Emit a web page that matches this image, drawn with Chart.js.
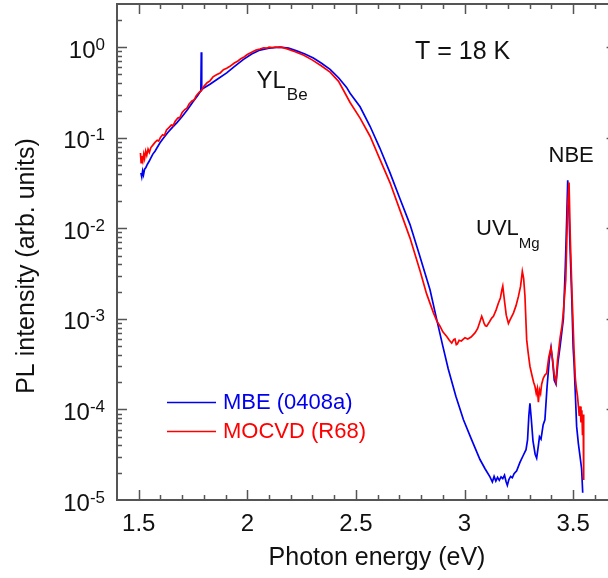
<!DOCTYPE html>
<html><head><meta charset="utf-8">
<script src="https://cdn.jsdelivr.net/npm/chart.js@4.4.1/dist/chart.umd.min.js"></script>
<style>
html,body{margin:0;padding:0;background:#fff;overflow:hidden;width:608px;height:578px}
#wrap{width:620px;height:578px;position:relative}
</style></head>
<body><div id="wrap"><canvas id="c" width="620" height="578"></canvas></div>
<script>
const mbeEnergy = [1.510,1.514,1.518,1.522,1.527,1.533,1.540,1.548,1.556,1.565,1.575,1.585,1.598,1.615,1.635,1.655,1.675,1.700,1.725,1.750,1.770,1.786,1.788,1.790,1.800,1.828,1.860,1.905,1.940,1.981,2.020,2.058,2.100,2.150,2.190,2.227,2.265,2.304,2.340,2.381,2.420,2.457,2.473,2.519,2.565,2.610,2.657,2.700,2.749,2.790,2.841,2.872,2.900,2.925,2.960,2.995,3.030,3.071,3.095,3.117,3.128,3.136,3.144,3.152,3.160,3.168,3.176,3.184,3.191,3.197,3.204,3.212,3.220,3.228,3.240,3.255,3.270,3.283,3.290,3.296,3.301,3.307,3.315,3.325,3.332,3.340,3.345,3.352,3.362,3.370,3.380,3.390,3.398,3.405,3.413,3.421,3.430,3.440,3.455,3.464,3.470,3.475,3.480,3.486,3.494,3.500,3.504,3.510,3.516,3.524,3.532,3.539,3.544];
const mbeIntensity = [0.041,0.037,0.043,0.039,0.045,0.047,0.051,0.055,0.060,0.066,0.071,0.078,0.088,0.100,0.115,0.130,0.146,0.172,0.205,0.250,0.290,0.330,0.880,0.340,0.355,0.390,0.440,0.520,0.610,0.730,0.840,0.930,0.975,1.000,0.975,0.910,0.840,0.760,0.670,0.570,0.460,0.360,0.310,0.220,0.134,0.077,0.041,0.022,0.0110,0.0053,0.0021,0.00098,0.00050,0.00028,0.00014,0.000077,0.000048,0.000028,0.000022,0.000018,0.0000158,0.0000182,0.0000162,0.0000178,0.0000165,0.0000180,0.0000172,0.0000188,0.0000160,0.0000145,0.0000168,0.0000182,0.0000176,0.0000195,0.000021,0.000026,0.000031,0.000036,0.000046,0.000085,0.000117,0.000080,0.000045,0.000032,0.000029,0.000040,0.000050,0.000047,0.000068,0.000077,0.00018,0.00035,0.00048,0.00035,0.00021,0.00019,0.00033,0.00050,0.00100,0.0038,0.012,0.034,0.018,0.0058,0.0016,0.00048,0.00033,0.00015,0.000065,0.000042,0.000030,0.000022,0.000012];
const mocvdEnergy = [1.508,1.511,1.515,1.519,1.523,1.527,1.532,1.537,1.543,1.549,1.556,1.565,1.575,1.585,1.592,1.600,1.610,1.618,1.628,1.640,1.650,1.658,1.668,1.680,1.690,1.700,1.712,1.722,1.732,1.745,1.755,1.765,1.778,1.788,1.800,1.815,1.828,1.842,1.860,1.875,1.890,1.905,1.920,1.940,1.955,1.970,1.985,2.000,2.020,2.040,2.058,2.075,2.090,2.100,2.115,2.130,2.140,2.155,2.180,2.220,2.260,2.300,2.340,2.381,2.420,2.450,2.473,2.519,2.565,2.610,2.657,2.700,2.749,2.795,2.825,2.856,2.872,2.887,2.900,2.918,2.930,2.941,2.950,2.956,2.962,2.967,2.975,2.985,3.002,3.015,3.030,3.048,3.060,3.070,3.079,3.085,3.090,3.096,3.102,3.115,3.125,3.133,3.145,3.156,3.165,3.172,3.176,3.180,3.185,3.192,3.202,3.210,3.225,3.237,3.248,3.258,3.266,3.272,3.278,3.286,3.293,3.301,3.310,3.318,3.324,3.330,3.335,3.340,3.345,3.350,3.355,3.362,3.370,3.378,3.388,3.398,3.405,3.413,3.421,3.428,3.440,3.449,3.455,3.466,3.475,3.481,3.487,3.495,3.504,3.510,3.515,3.520,3.524,3.528,3.532,3.536,3.540,3.543,3.546,3.548,3.549];
const mocvdIntensity = [0.068,0.053,0.063,0.056,0.066,0.059,0.071,0.064,0.075,0.069,0.078,0.083,0.089,0.094,0.092,0.101,0.108,0.106,0.122,0.130,0.138,0.136,0.152,0.165,0.168,0.190,0.205,0.212,0.236,0.255,0.262,0.292,0.318,0.330,0.370,0.405,0.425,0.470,0.500,0.520,0.565,0.585,0.615,0.670,0.700,0.745,0.780,0.830,0.880,0.930,0.955,0.985,0.975,1.000,0.990,1.005,0.995,1.000,0.965,0.890,0.815,0.720,0.625,0.530,0.420,0.310,0.245,0.165,0.104,0.058,0.0318,0.0165,0.0078,0.0034,0.0019,0.00118,0.00095,0.00083,0.00072,0.00064,0.00058,0.00054,0.00059,0.00060,0.00052,0.00053,0.00058,0.00057,0.00062,0.00060,0.00063,0.00070,0.00078,0.00092,0.00107,0.00098,0.00089,0.00084,0.00083,0.00093,0.00102,0.00107,0.00125,0.00150,0.00170,0.00210,0.00230,0.00190,0.00150,0.00110,0.00089,0.00098,0.00116,0.00140,0.00177,0.00230,0.00335,0.00280,0.00180,0.00059,0.00042,0.00030,0.00024,0.00020,0.00018,0.00015,0.00017,0.00012,0.000165,0.00015,0.00019,0.00022,0.00024,0.00025,0.00038,0.00048,0.00036,0.00024,0.00020,0.00035,0.00062,0.00085,0.00120,0.0027,0.018,0.032,0.0075,0.0018,0.00045,0.00022,0.00017,0.00014,0.00011,0.000085,0.000108,0.000072,0.000098,0.000052,0.000088,0.000030,0.0000166];
const seriesNames = ['MBE (0408a)','MOCVD (R68)'];
const xTickValues = [1.5,2,2.5,3,3.5];
const xTickLabels = ['1.5','2','2.5','3','3.5'];
const yTickExponents = [0,-1,-2,-3,-4,-5];
const xTitle = 'Photon energy (eV)';
const yTitle = 'PL intensity (arb. units)';

const BLUE = '#0000ee', RED = '#ff0000', AX = '#555555';
const FONT = '"Liberation Sans", Arial, sans-serif';

function pts(xs, ys){ return xs.map((v,i)=>({x:v,y:ys[i]})); }

const decor = {
  id:'decor',
  afterDraw(chart){
    const {ctx, chartArea:a, scales:{x,y}} = chart;
    ctx.save();
    ctx.strokeStyle = AX; ctx.lineWidth = 1.5;
    ctx.beginPath();
    for (let k = Math.ceil(x.min*10+1e-6); k <= Math.floor(x.max*10-1e-6); k++){
      const px = Math.round(x.getPixelForValue(k/10))+0.5;
      const L = (k%5===0) ? 10 : 5;
      ctx.moveTo(px, a.bottom); ctx.lineTo(px, a.bottom-L);
      ctx.moveTo(px, a.top); ctx.lineTo(px, a.top+L);
    }
    for (let d = -5; d <= 0; d++){
      for (let m = 1; m <= 9; m++){
        const v = m*Math.pow(10,d);
        if (v <= y.min*1.0001 || v >= y.max*0.9999) continue;
        const py = Math.round(y.getPixelForValue(v))+0.5;
        const L = (m===1) ? 10 : 5;
        ctx.moveTo(a.left, py); ctx.lineTo(a.left+L, py);
        ctx.moveTo(a.right, py); ctx.lineTo(a.right-L, py);
      }
    }
    ctx.stroke();
    ctx.lineWidth = 2;
    ctx.strokeRect(a.left, a.top, a.right-a.left, a.bottom-a.top);

    ctx.fillStyle = '#111';
    ctx.font = '24px '+FONT; ctx.textAlign='center'; ctx.textBaseline='alphabetic';
    xTickValues.forEach((v,i)=>{ ctx.fillText(xTickLabels[i], x.getPixelForValue(v), a.bottom+31); });
    yTickExponents.forEach(e=>{
      const py = y.getPixelForValue(Math.pow(10,e));
      const ex = e===0 ? '0' : '-'+Math.abs(e);
      ctx.font = '17px '+FONT; ctx.textAlign='right';
      const right = a.left-12;
      const w = ctx.measureText(ex).width;
      ctx.fillText(ex, right, py+2.5);
      ctx.font = '24px '+FONT;
      ctx.fillText('10', right-w, py+10.5);
    });
    ctx.font = '25px '+FONT; ctx.textAlign='center';
    ctx.fillText(xTitle, 377, a.bottom+65);
    ctx.save();
    ctx.translate(33.5, 266); ctx.rotate(-Math.PI/2);
    ctx.fillText(yTitle, 0, 0);
    ctx.restore();

    ctx.textAlign='left';
    ctx.font = '25px '+FONT; ctx.fillText('T = 18 K', 415, 58.5);
    ctx.font = '24px '+FONT; ctx.fillText('YL', 256.5, 87.5);
    let w = ctx.measureText('YL').width;
    ctx.font = '17px '+FONT; ctx.fillText('Be', 256.5+w+1, 100);
    ctx.font = '22px '+FONT; ctx.fillText('UVL', 476, 235);
    w = ctx.measureText('UVL').width;
    ctx.font = '15px '+FONT; ctx.fillText('Mg', 476+w, 248);
    ctx.font = '22px '+FONT; ctx.fillText('NBE', 548.5, 161.5);

    const leg = [[BLUE, seriesNames[0], 402],[RED, seriesNames[1], 431]];
    leg.forEach(([c,t,ly])=>{
      ctx.strokeStyle=c; ctx.lineWidth=1.5;
      ctx.beginPath(); ctx.moveTo(167, ly+0.5); ctx.lineTo(216, ly+0.5); ctx.stroke();
      ctx.fillStyle=c; ctx.font='22px '+FONT; ctx.textBaseline='middle';
      ctx.fillText(t, 223, ly+1);
    });
    ctx.restore();
  }
};

new Chart(document.getElementById('c'), {
  type:'line',
  data:{ datasets:[
    {label:seriesNames[0], data:pts(mbeEnergy, mbeIntensity), borderColor:BLUE, borderWidth:1.7, pointRadius:0, tension:0, order:1},
    {label:seriesNames[1], data:pts(mocvdEnergy, mocvdIntensity), borderColor:RED, borderWidth:1.7, pointRadius:0, tension:0, order:0}
  ]},
  options:{
    responsive:false, animation:false, parsing:true,
    layout:{padding:{left:117, top:4, right:3.4, bottom:78}},
    plugins:{legend:{display:false}, tooltip:{enabled:false}},
    scales:{
      x:{type:'linear', min:1.4, max:3.7, display:false},
      y:{type:'logarithmic', min:1e-5, max:3, display:false}
    }
  },
  plugins:[decor]
});
</script></body></html>
